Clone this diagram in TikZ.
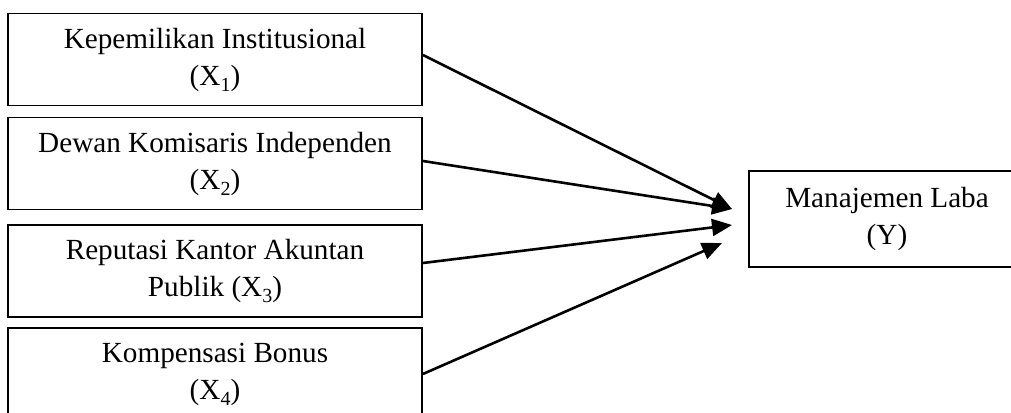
\documentclass[tikz,border=0pt]{standalone}
\usepackage{fontspec}
\setmainfont{Liberation Serif}
\usetikzlibrary{arrows.meta}
\newcommand{\sub}[1]{\raisebox{-0.45ex}{\fontsize{10}{10}\selectfont #1}}
\tikzstyle{var} = [rectangle, draw=black, line width=0.9pt, minimum width=207pt, minimum height=46pt, text centered, align=center, font=\fontsize{14.6}{18.5}\selectfont]
\tikzstyle{dep} = [var, minimum width=138pt, minimum height=48pt]
\tikzstyle{arrow} = [line width=1.3pt, -{Triangle[length=10pt,width=8.5pt]}]

\begin{document}
\begin{tikzpicture}[x=0.5pt,y=-0.5pt]
                \useasboundingbox (0,0) rectangle (1011,412);
                \node (x1) [var] at (215,59.5) {Kepemilikan Institusional\\(X\sub{1})};
                \node (x2) [var] at (215,163.5) {Dewan Komisaris Independen\\(X\sub{2})};
                \node (x3) [var] at (215,271) {Reputasi Kantor Akuntan\\Publik (X\sub{3})};
                \node (x4) [var] at (215,374) {Kompensasi Bonus\\(X\sub{4})};
                \node (y) [dep] at (887,219) {Manajemen Laba\\(Y)};
                % arrow tips in front of Y
                \coordinate (t1) at (732,209);
                \coordinate (t2) at (732,225);
                \coordinate (t3) at (722,243);
                \draw [arrow] ([yshift=2.25pt]x1.east) -- (t1);
                \draw [arrow] ([yshift=1.25pt]x2.east) -- (t1);
                \draw [arrow] ([yshift=4pt]x3.east) -- (t2);
                \draw [arrow] (x4.east) -- (t3);
            \end{tikzpicture}
\end{document}
